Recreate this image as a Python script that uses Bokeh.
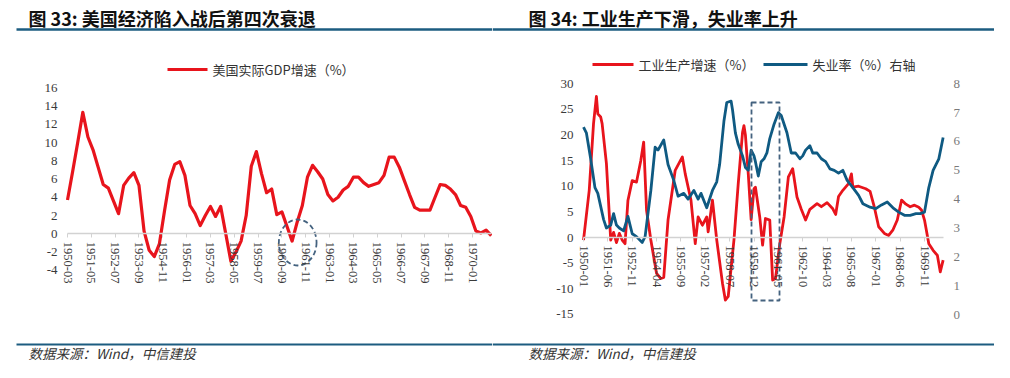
from bokeh.plotting import figure
from bokeh.models import Range1d, LinearAxis, FixedTicker, Label, ColumnDataSource
from bokeh.layouts import row
from bokeh.embed import file_html
from bokeh.resources import INLINE
from bokeh.core.properties import value

# ---------------- data ----------------
# Fig 33: US real GDP growth (%), quarterly, first quarter = 1950-03
gdp_start = "1950-03"
gdp_values = [
    3.7, 6.8, 10.0, 13.3,     # 1950
    10.6, 9.2, 7.3, 5.4,      # 1951
    5.0, 3.6, 2.2, 5.3,       # 1952
    6.1, 6.7, 5.3, 0.3,       # 1953
    -1.8, -2.5, -1.1, 2.5,    # 1954
    5.9, 7.6, 7.9, 6.4,       # 1955
    3.1, 2.2, 0.9, 2.0,       # 1956
    3.0, 1.9, 3.0, 0.0,       # 1957
    -3.0, -2.0, -0.8, 2.0,    # 1958
    7.4, 9.0, 6.6, 4.5,       # 1959
    4.9, 2.1, 2.4, 0.8,       # 1960
    -0.8, 1.3, 3.1, 6.2,      # 1961
    7.5, 6.8, 6.0, 4.3,       # 1962
    3.6, 4.0, 4.8, 5.2,       # 1963
    6.2, 6.2, 5.6, 5.2,       # 1964
    5.4, 5.6, 6.4, 8.4,       # 1965
    8.4, 7.3, 5.8, 4.3,       # 1966
    2.9, 2.6, 2.6, 2.6,       # 1967
    4.0, 5.4, 5.3, 4.9,       # 1968
    4.3, 3.1, 2.9, 1.9,       # 1969
    0.3, 0.1, 0.4, -0.2,      # 1970
]
gdp_tick_labels = ["1950-03", "1951-05", "1952-07", "1953-09", "1954-11", "1956-01",
                   "1957-03", "1958-05", "1959-07", "1960-09", "1961-11", "1963-01",
                   "1964-03", "1965-05", "1966-07", "1967-09", "1968-11", "1970-01"]
gdp_y_ticks = [-4, -2, 0, 2, 4, 6, 8, 10, 12, 14, 16]
gdp_legend = "美国实际GDP增速（%）"

# Fig 34: industrial production growth (%) and unemployment rate (%)
ip_start = "1950-01"
ip_dates = [
    "1950-01", "1950-05", "1950-08", "1950-10", "1950-11",
    "1951-01", "1951-02", "1951-05", "1951-08", "1951-10", "1951-12",
    "1952-02", "1952-04", "1952-06", "1952-08", "1952-11",
    "1953-02", "1953-05", "1953-07", "1953-09", "1953-12",
    "1954-04", "1954-07", "1954-09", "1954-12",
    "1955-05", "1955-10", "1955-12",
    "1956-04", "1956-07", "1956-09", "1956-12",
    "1957-03", "1957-04", "1957-07", "1957-10",
    "1958-02", "1958-04", "1958-06", "1958-10",
    "1959-01", "1959-04", "1959-05", "1959-06", "1959-08", "1959-10", "1959-12",
    "1960-01", "1960-04", "1960-06", "1960-08", "1960-11",
    "1961-01", "1961-03", "1961-06", "1961-09", "1961-12",
    "1962-03", "1962-06", "1962-09", "1962-12",
    "1963-03", "1963-08", "1963-11",
    "1964-03", "1964-07", "1964-09", "1964-11",
    "1965-02", "1965-06", "1965-08", "1965-09",
    "1966-01", "1966-06", "1966-09", "1966-12",
    "1967-03", "1967-07", "1967-10",
    "1968-01", "1968-04", "1968-07", "1968-10",
    "1969-01", "1969-04", "1969-07", "1969-09", "1969-11",
    "1970-02", "1970-05", "1970-08", "1970-10", "1970-12",
]
ip_values = [
    -0.5, 9.2, 22.2, 27.5, 24.1,
    23.5, 22.2, 14.4, -0.5, 1.0, -1.0,
    0.8, -0.5, -1.2, 7.2, 11.1,
    10.8, 15.0, 18.6, 5.3, -0.5,
    -7.0, -8.0, -7.8, 3.4,
    13.1, 15.7, 12.4,
    7.3, -1.2, 4.0, 2.4,
    4.0, 1.1, 7.3, -0.5,
    -8.9, -12.2, -11.5, -0.5,
    10.5, 20.5, 21.8, 20.0, 12.4, 3.5, 9.5,
    9.8, 4.0, -1.5, 3.7, 3.4,
    -8.3, -8.0, -1.2, 4.0, 11.8,
    13.4, 7.9, 5.5, 3.4,
    5.5, 6.6, 6.0,
    6.8, 5.6, 4.5, 8.0,
    9.2, 10.5, 12.4, 9.8,
    10.0, 9.5, 9.0, 5.9,
    2.1, 0.8, 0.4,
    1.5, 3.4, 7.3, 6.5,
    6.0, 6.3, 5.9, 5.3, 3.4,
    -1.2, -2.5, -3.5, -6.7, -4.4,
]
unemp_dates = [
    "1950-01", "1950-03", "1950-06", "1950-09", "1950-11",
    "1951-03", "1951-05", "1951-08", "1951-10", "1951-12",
    "1952-02", "1952-05", "1952-08", "1952-11",
    "1953-02", "1953-06", "1953-08", "1953-12",
    "1954-03", "1954-05", "1954-09", "1954-12",
    "1955-04", "1955-07", "1955-11",
    "1956-02", "1956-06", "1956-09", "1956-11",
    "1957-03", "1957-07", "1957-10", "1957-12",
    "1958-03", "1958-05", "1958-08", "1958-09", "1958-11",
    "1959-01", "1959-04", "1959-06", "1959-08", "1959-10", "1959-12",
    "1960-01", "1960-03", "1960-05", "1960-07", "1960-09", "1960-11",
    "1961-02", "1961-05", "1961-07", "1961-11",
    "1962-02", "1962-05", "1962-08", "1962-10", "1962-12",
    "1963-03", "1963-05", "1963-08", "1963-11",
    "1964-02", "1964-05", "1964-08", "1964-11",
    "1965-02", "1965-05", "1965-09",
    "1966-01", "1966-04", "1966-09",
    "1967-01", "1967-05", "1967-09",
    "1968-01", "1968-05", "1968-09",
    "1969-01", "1969-05", "1969-08", "1969-11",
    "1970-02", "1970-05", "1970-09", "1970-12",
]
unemp_values = [
    6.5, 6.3, 5.4, 4.4, 4.2,
    3.3, 3.0, 3.1, 3.5, 3.1,
    3.0, 2.9, 3.4, 2.8,
    2.7, 2.5, 2.7, 4.3,
    5.8, 5.7, 6.05, 5.2,
    4.65, 4.1, 4.2,
    4.0, 4.3, 4.0, 4.2,
    3.7, 4.3, 4.6, 5.2,
    6.7, 7.35, 7.4, 7.1, 6.3,
    5.9, 5.5, 5.1, 5.0, 5.7, 5.5,
    5.3, 4.8, 5.3, 5.4, 5.6, 6.1,
    6.6, 7.0, 6.9, 6.3,
    5.6, 5.6, 5.4, 5.5, 5.7,
    5.85, 5.6, 5.6, 5.4,
    5.3, 5.05, 5.0, 4.9,
    5.0, 4.65, 4.4,
    4.13, 3.84, 3.72,
    3.67, 3.8, 3.9,
    3.7, 3.55, 3.44,
    3.44, 3.5, 3.5, 3.55,
    4.4, 5.0, 5.4, 6.14,
]
ip_tick_labels = ["1950-01", "1951-06", "1952-11", "1954-04", "1955-09", "1957-02",
                  "1958-07", "1959-12", "1961-05", "1962-10", "1964-03", "1965-08",
                  "1967-01", "1968-06", "1969-11"]
ip_y_ticks = [-15, -10, -5, 0, 5, 10, 15, 20, 25, 30]
unemp_y_ticks = [0, 1, 2, 3, 4, 5, 6, 7, 8]
ip_legend = "工业生产增速（%）"
unemp_legend = "失业率（%）右轴"

title_left = "图  33: 美国经济陷入战后第四次衰退"
title_right = "图  34: 工业生产下滑，失业率上升"
source_text = "数据来源：Wind，中信建投"


def month_offset(s, origin):
    y, m = map(int, s.split("-"))
    oy, om = map(int, origin.split("-"))
    return (y - oy) * 12 + (m - om)


# ---------------- styles ----------------
RED = "#e8141c"
BLUE = "#0f5a82"
RULE = "#1c5c80"
DASH = "#44627f"
AXIS_GRAY = "#d2d2d2"
LABEL = "#3a3a3a"
LABEL_R = "#7a7a7a"
SERIF = "Liberation Serif"
CJK = "Noto Sans CJK SC"

TOP, BOT = 0, 362   # picture pixel rows covered by the canvases
SPLIT = 492         # picture column where the two canvases meet
RIGHT = 994


def base_fig(width, xr, yr, px0, px1):
    p = figure(width=width, height=BOT - TOP, output_backend="svg", toolbar_location=None,
               x_axis_type=None, y_axis_type=None, title=None, min_border=0,
               x_range=xr, y_range=yr)
    p.outline_line_color = None
    p.background_fill_color = "white"
    p.border_fill_color = "white"
    p.extra_x_ranges = {"px": Range1d(px0, px1)}
    p.extra_y_ranges = {"py": Range1d(BOT, TOP)}
    return p


def add_frame_texts(p, x_rule0, x_rule1, title_x, title):
    p.add_layout(Label(x=title_x, y=17, x_range_name="px", y_range_name="py", text=title,
                       text_font=CJK, text_font_size="18px", text_font_style="bold",
                       text_color="#111111", text_baseline="middle"))
    p.segment(x0=[x_rule0], y0=[29], x1=[x_rule1], y1=[29], line_color=RULE, line_width=2.6,
              x_range_name="px", y_range_name="py")
    p.segment(x0=[x_rule0], y0=[344], x1=[x_rule1], y1=[344], line_color=RULE, line_width=2.2,
              x_range_name="px", y_range_name="py")
    p.add_layout(Label(x=title_x, y=352, x_range_name="px", y_range_name="py", text=source_text,
                       text_font=CJK, text_font_size="13.5px", text_font_style="italic",
                       text_color="#333333", text_baseline="middle"))


def legend_item(p, x0, x1, y, color, text):
    p.line(x=[x0, x1], y=[y, y], line_color=color, line_width=3.2,
           x_range_name="px", y_range_name="py")
    p.text(x=[x1 + 5], y=[y], text=[text], text_font=value(CJK), text_font_size="13px",
           text_color="#333333", text_baseline="middle", x_range_name="px", y_range_name="py")


# ---------------- left panel ----------------
GX0, GPPM = 67.0, 1.7017     # picture x of first quarter, px per month
GY0, GPPU = 233.3, 9.13      # picture y of 0 %, px per %
gx = lambda X: (X - GX0) / GPPM
gy = lambda Y: (GY0 - Y) / GPPU

p1 = base_fig(SPLIT, Range1d(gx(0), gx(SPLIT)), Range1d(gy(BOT), gy(TOP)), 0, SPLIT)

gdp_x = [3 * i for i in range(len(gdp_values))]
gdp_tick_pos = [month_offset(s, gdp_start) for s in gdp_tick_labels]

xa1 = LinearAxis(fixed_location=0, bounds=(0, gdp_x[-1]),
                 ticker=FixedTicker(ticks=gdp_tick_pos),
                 major_label_overrides={t: s for t, s in zip(gdp_tick_pos, gdp_tick_labels)},
                 major_label_orientation="vertical",
                 axis_line_color=AXIS_GRAY, axis_line_width=1.5,
                 major_tick_line_color=AXIS_GRAY, major_tick_in=0, major_tick_out=4,
                 minor_tick_line_color=None, major_label_standoff=4,
                 major_label_text_font=SERIF, major_label_text_font_size="12.5px",
                 major_label_text_color=LABEL)
p1.add_layout(xa1, "below")

ya1 = LinearAxis(fixed_location=gx(61), ticker=FixedTicker(ticks=gdp_y_ticks),
                 major_label_overrides={t: str(t) for t in gdp_y_ticks},
                 axis_line_color=None, major_tick_line_color=None, minor_tick_line_color=None,
                 major_tick_out=0, major_tick_in=0, major_label_standoff=4,
                 major_label_text_font=SERIF, major_label_text_font_size="13px",
                 major_label_text_color=LABEL)
p1.add_layout(ya1, "left")

src_gdp = ColumnDataSource(dict(x=gdp_x, y=gdp_values))
p1.line("x", "y", source=src_gdp, line_color=RED, line_width=3.2, line_join="round")

p1.ellipse(x=[gx(297.2)], y=[gy(242)], width=[37.7 / GPPM], height=[46 / GPPU],
           fill_color=None, line_color=DASH, line_dash="5 3", line_width=1.8)

legend_item(p1, 167, 207, 69, RED, gdp_legend)
add_frame_texts(p1, 16, SPLIT, 28, title_left)

# ---------------- right panel ----------------
IX0, IPPM = 583.0, 1.4328
IY0, IPPU = 237.0, 5.13
UY0, UPPU = 314.0, 28.84
ix = lambda X: (X - IX0) / IPPM
iy = lambda Y: (IY0 - Y) / IPPU
uy = lambda Y: (UY0 - Y) / UPPU

p2 = base_fig(RIGHT - SPLIT, Range1d(ix(SPLIT), ix(RIGHT)), Range1d(iy(BOT), iy(TOP)), SPLIT, RIGHT)
p2.extra_y_ranges["u"] = Range1d(uy(BOT), uy(TOP))

ip_x = [month_offset(s, ip_start) for s in ip_dates]
un_x = [month_offset(s, ip_start) for s in unemp_dates]
ip_tick_pos = [month_offset(s, ip_start) for s in ip_tick_labels]

xa2 = LinearAxis(fixed_location=0, bounds=(0, max(ip_x[-1], un_x[-1])),
                 ticker=FixedTicker(ticks=ip_tick_pos),
                 major_label_overrides={t: s for t, s in zip(ip_tick_pos, ip_tick_labels)},
                 major_label_orientation="vertical",
                 axis_line_color=AXIS_GRAY, axis_line_width=1.5,
                 major_tick_line_color=AXIS_GRAY, major_tick_in=0, major_tick_out=4,
                 minor_tick_line_color=None, major_label_standoff=4,
                 major_label_text_font=SERIF, major_label_text_font_size="12.5px",
                 major_label_text_color=LABEL)
p2.add_layout(xa2, "below")

ya2 = LinearAxis(fixed_location=ix(577), ticker=FixedTicker(ticks=ip_y_ticks),
                 major_label_overrides={t: str(t) for t in ip_y_ticks},
                 axis_line_color=None, major_tick_line_color=None, minor_tick_line_color=None,
                 major_tick_out=0, major_tick_in=0, major_label_standoff=4,
                 major_label_text_font=SERIF, major_label_text_font_size="13px",
                 major_label_text_color=LABEL)
p2.add_layout(ya2, "left")

ya3 = LinearAxis(fixed_location=ix(949), y_range_name="u", ticker=FixedTicker(ticks=unemp_y_ticks),
                 major_label_overrides={t: str(t) for t in unemp_y_ticks},
                 axis_line_color=None, major_tick_line_color=None, minor_tick_line_color=None,
                 major_tick_out=0, major_tick_in=0, major_label_standoff=4,
                 major_label_text_font=SERIF, major_label_text_font_size="13px",
                 major_label_text_color=LABEL_R)
p2.add_layout(ya3, "right")

src_ip = ColumnDataSource(dict(x=ip_x, y=ip_values))
src_un = ColumnDataSource(dict(x=un_x, y=unemp_values))
p2.line("x", "y", source=src_ip, line_color=RED, line_width=2.8, line_join="round")
p2.line("x", "y", source=src_un, line_color=BLUE, line_width=2.8, line_join="round",
        y_range_name="u")

p2.quad(left=[751], right=[779], top=[102], bottom=[300], fill_color=None,
        line_color=DASH, line_dash="5 3", line_width=1.8, x_range_name="px", y_range_name="py")

legend_item(p2, 592, 633, 64, RED, ip_legend)
legend_item(p2, 763, 807, 64, BLUE, unemp_legend)
add_frame_texts(p2, SPLIT, 996, 528, title_right)

layout = row(p1, p2)
open("out.html", "w").write(file_html(layout, INLINE))
